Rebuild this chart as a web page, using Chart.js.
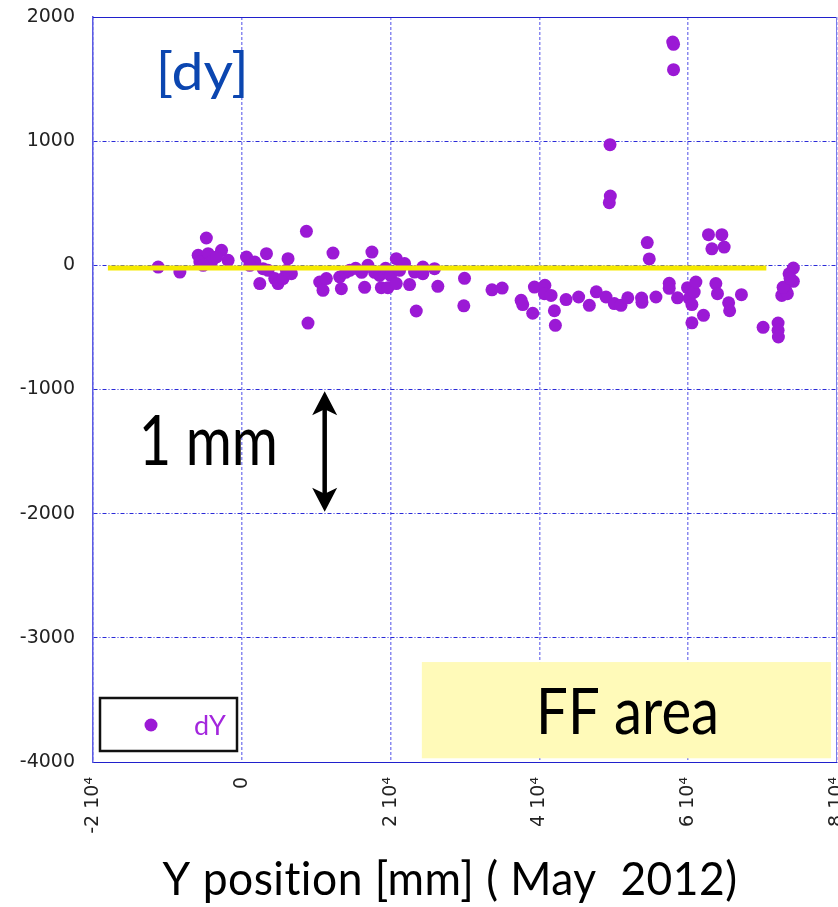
<!DOCTYPE html>
<html>
<head>
<meta charset="utf-8">
<script src="https://cdn.jsdelivr.net/npm/chart.js@4/dist/chart.umd.min.js"></script>
<style>
  html, body { margin: 0; padding: 0; background: #fff; }
  #wrap { width: 838px; height: 907px; }
</style>
</head>
<body>
<div id="wrap"><canvas id="c" width="838" height="907"></canvas></div>
<script>
// Y position of each measured point [mm] and its dy deviation
const dyX = [
  -11235, -8322, -4765, -5866, -4524, -2725, -1839, -5638, -4067, -5195,
  -3396, 631, 1745, 3315, 2416, 1074, 2859, 3530, 4430, 4873,
  5544, 6215, 6671, 6000, 8685, 8899, 10470, 10913, 11369, 12255,
  13155, 13383, 13960, 14497, 15302, 16108, 16510, 16953, 17490, 17853,
  18524, 18752, 19638, 19329, 20000, 20765, 20765, 21208, 21879, 22551,
  23222, 23450, 24336, 24336, 25906, 26349, 29933, 29839, 33625, 34994,
  37544, 37759, 39101, 39329, 40739, 40672, 41571, 42014, 42148, 43584,
  45276, 46712, 47652, 48954, 49491, 49531, 49397, 50068, 50967, 51880,
  53732, 53786, 54497, 54766, 55665, 57450, 57450, 57920, 58028, 58028,
  58564, 59907, 60135, 60497, 60497, 60806, 61034, 62055, 62726, 63182,
  64524, 64833, 63719, 63934, 65437, 65571, 67155, 70068, 72082, 72082,
  72122, 74135, 73558, 74135, 73115, 72578, 73330, 72753, 73692
];
const dyY = [
  -14, -54, 220, 81, 94, 121, 40, 27, 27, 0,
  67, 67, 27, 94, -147, 0, -27, -40, -107, -147,
  -107, 54, -67, -40, 274, -465, -134, -201, -107, 99,
  -94, -188, -56, -40, -24, -56, -177, 0, 107, -56,
  -81, -180, -180, -24, -81, 54, -147, -40, 14, -155,
  -54, -368, -14, -67, -27, -169, -105, -326, -197, -183,
  -282, -316, -386, -175, -161, -228, -242, -366, -483, -276,
  -255, -322, -213, -255, 972, 558, 505, -308, -322, -262,
  -263, -298, 183, 52, -255, -145, -185, 1798, 1780, 1576,
  -262, -180, -266, -316, -463, -215, -134, -403, 247, 133,
  247, 147, -147, -228, -302, -366, -236, -499, -465, -523,
  -577, -22, -68, -129, -201, -242, -228, -177, -105
];

// overall mean level drawn across the measured range
const meanX = [-18000, 70500];
const meanY = [-22, -22];

const xTickValues = [-20000, 0, 20000, 40000, 60000, 80000];
const xTickLabels = ['-2 10\u2074', '0', '2 10\u2074', '4 10\u2074', '6 10\u2074', '8 10\u2074'];
const yTickValues = [2000, 1000, 0, -1000, -2000, -3000, -4000];
const yTickLabels = ['2000', '1000', '0', '-1000', '-2000', '-3000', '-4000'];

const seriesLabel = 'dY';
const xTitle = 'Y position [mm] ( May  2012)';
const panelTitle = '[dy]';
const scaleNote = '1 mm';
const areaNote = 'FF area';

const pointColor = '#9b19d5';

// draw text centred at cx, squeezed/stretched to a given width
function fittedText(ctx, text, cx, baseline, font, color, width, spacing) {
  ctx.save();
  ctx.font = font;
  if (spacing && 'letterSpacing' in ctx) ctx.letterSpacing = spacing; // also keeps "ti" unligated
  ctx.fillStyle = color;
  ctx.textAlign = 'center';
  ctx.textBaseline = 'alphabetic';
  const w = ctx.measureText(text).width;
  ctx.translate(cx, baseline);
  ctx.scale(width / w, 1);
  ctx.fillText(text, 0, 0);
  ctx.restore();
}

function arrowHead(ctx, x, tipY, dir) {
  // dir = 1 points up, -1 points down
  ctx.beginPath();
  ctx.moveTo(x, tipY);
  ctx.lineTo(x - 12.5, tipY + dir * 24);
  ctx.lineTo(x, tipY + dir * 18);
  ctx.lineTo(x + 12.5, tipY + dir * 24);
  ctx.closePath();
  ctx.fill();
}

const overlay = {
  id: 'overlay',
  afterDraw(chart) {
    const { ctx, chartArea: a, scales: { x, y } } = chart;
    ctx.save();

    // frame: top and right edges
    ctx.strokeStyle = '#2020cc';
    ctx.lineWidth = 1;
    ctx.beginPath();
    ctx.moveTo(a.left, a.top + 0.5);
    ctx.lineTo(a.right, a.top + 0.5);
    ctx.stroke();
    ctx.strokeStyle = '#7a7aea';
    ctx.beginPath();
    ctx.moveTo(a.right - 0.5, a.top);
    ctx.lineTo(a.right - 0.5, a.bottom);
    ctx.stroke();

    // panel label
    fittedText(ctx, panelTitle, x.getPixelForValue(-5300), y.getPixelForValue(1409),
      '52px Lato', '#0b46b0', 93);

    // 1 mm scale bar
    fittedText(ctx, scaleNote, x.getPixelForValue(-4500), y.getPixelForValue(-1610),
      '70px Lato', '#000', 139);
    const ax = x.getPixelForValue(11140);
    const yTop = y.getPixelForValue(-1015);
    const yBot = y.getPixelForValue(-1985);
    ctx.fillStyle = '#000';
    ctx.strokeStyle = '#000';
    ctx.lineWidth = 4.5;
    ctx.beginPath();
    ctx.moveTo(ax, yTop + 16);
    ctx.lineTo(ax, yBot - 16);
    ctx.stroke();
    arrowHead(ctx, ax, yTop, 1);
    arrowHead(ctx, ax, yBot, -1);

    // FF area box
    const bx0 = x.getPixelForValue(24200), bx1 = x.getPixelForValue(79200);
    const by0 = y.getPixelForValue(-3195), by1 = y.getPixelForValue(-3970);
    ctx.fillStyle = '#fffab9';
    ctx.fillRect(bx0, by0, bx1 - bx0, by1 - by0);
    fittedText(ctx, areaNote, x.getPixelForValue(51850), y.getPixelForValue(-3771),
      '63px Lato', '#000', 183);

    // legend
    const lx = a.left + 7, ly = a.bottom - 64;
    ctx.strokeStyle = '#111';
    ctx.lineWidth = 2.5;
    ctx.strokeRect(lx, ly, 137, 53);
    ctx.fillStyle = pointColor;
    ctx.beginPath();
    ctx.arc(lx + 51, ly + 27, 6.5, 0, Math.PI * 2);
    ctx.fill();
    ctx.font = '27px Lato';
    ctx.fillStyle = '#a326dd';
    ctx.textAlign = 'left';
    ctx.textBaseline = 'alphabetic';
    ctx.fillText(chart.data.datasets[1].label, lx + 94, ly + 37);

    // x-axis title
    fittedText(ctx, xTitle, x.getPixelForValue(28000), chart.height - 12,
      '46px Lato', '#000', 575, '0.5px');

    ctx.restore();
  }
};

new Chart(document.getElementById('c'), {
  type: 'scatter',
  data: {
    datasets: [
      {
        type: 'line',
        label: 'mean',
        data: meanX.map((v, i) => ({ x: v, y: meanY[i] })),
        borderColor: '#f5e900',
        borderWidth: 5,
        pointRadius: 0,
        borderCapStyle: 'butt',
        order: 0
      },
      {
        label: seriesLabel,
        data: dyX.map((v, i) => ({ x: v, y: dyY[i] })),
        backgroundColor: pointColor,
        borderWidth: 0,
        pointRadius: 6.5,
        order: 1
      }
    ]
  },
  options: {
    responsive: false,
    animation: false,
    devicePixelRatio: 1,
    layout: { autoPadding: false, padding: { top: 17, right: 1, left: 0, bottom: 0 } },
    plugins: { legend: { display: false }, tooltip: { enabled: false } },
    scales: {
      x: {
        type: 'linear',
        min: -20000,
        max: 80000,
        afterBuildTicks: s => { s.ticks = xTickValues.map(v => ({ value: v })); },
        afterFit: s => { s.height = 145; s.paddingLeft = 0; s.paddingRight = 0; },
        ticks: {
          minRotation: 90, maxRotation: 90, autoSkip: false, padding: 15,
          font: { family: 'DejaVu Sans', size: 19 }, color: '#222',
          callback: v => { const i = xTickValues.indexOf(v); return i >= 0 ? xTickLabels[i] : ''; }
        },
        grid: { color: '#8a8af0', lineWidth: 1.5, drawTicks: false },
        border: { display: true, color: '#2020cc', width: 1, dash: [3, 2] }
      },
      y: {
        type: 'linear',
        min: -4000,
        max: 2000,
        afterBuildTicks: s => { s.ticks = yTickValues.map(v => ({ value: v })); },
        afterFit: s => { s.width = 93; s.paddingTop = 0; s.paddingBottom = 0; },
        ticks: {
          padding: 18,
          font: { family: 'DejaVu Sans', size: 19 }, color: '#222',
          callback: v => { const i = yTickValues.indexOf(v); return i >= 0 ? yTickLabels[i] : ''; }
        },
        grid: { color: '#2a2ad8', lineWidth: 1, drawTicks: false },
        border: { display: true, color: '#5c5ce4', width: 1.5, dash: [4, 2, 1, 2] }
      }
    }
  },
  plugins: [overlay]
});
</script>
</body>
</html>
